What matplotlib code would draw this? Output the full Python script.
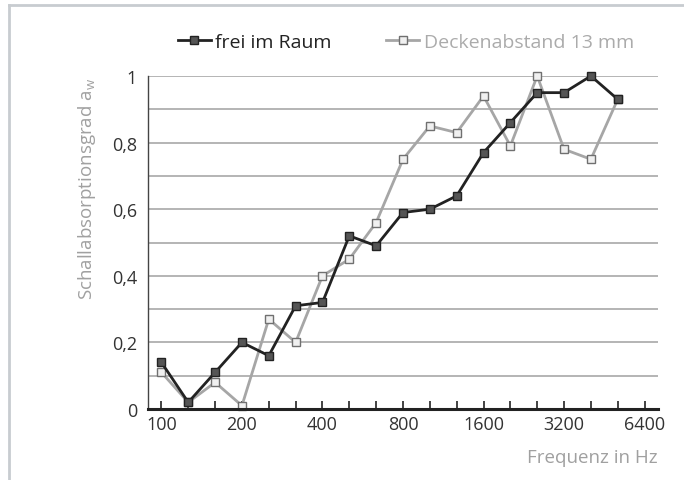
import matplotlib
matplotlib.use("Agg")
import matplotlib.pyplot as plt
from matplotlib.lines import Line2D

plt.rcParams['font.family'] = ['Open Sans', 'DejaVu Sans']

freqs = [100, 125, 160, 200, 250, 315, 400, 500, 630, 800, 1000, 1250,
         1600, 2000, 2500, 3150, 4000, 5000]
frei = [0.14, 0.02, 0.11, 0.20, 0.16, 0.31, 0.32, 0.52, 0.49, 0.59, 0.60,
        0.64, 0.77, 0.86, 0.95, 0.95, 1.00, 0.93]
decke = [0.11, 0.02, 0.08, 0.01, 0.27, 0.20, 0.40, 0.45, 0.56, 0.75, 0.85,
         0.83, 0.94, 0.79, 1.00, 0.78, 0.75, 0.93]
xlabels = ['100', '200', '400', '800', '1600', '3200', '6400']
ylabels = ['0', '0,2', '0,4', '0,6', '0,8', '1']

fig = plt.figure(figsize=(6.84, 4.81), dpi=100)
ax = fig.add_axes([148 / 684, 1 - 410 / 481, 510 / 684, 333 / 481])

x = list(range(len(freqs)))
ax.plot(x, decke, color='#a6a6a6', lw=2.0, marker='s', ms=5.5,
        mfc='#f0f0f0', mec='#707070', mew=1.0, clip_on=False, zorder=3,
        label='Deckenabstand 13 mm')
ax.plot(x, frei, color='#222222', lw=2.0, marker='s', ms=5.5,
        mfc='#555555', mec='#222222', mew=1.0, clip_on=False, zorder=4,
        label='frei im Raum')

ax.set_xlim(-0.5, len(freqs) + 0.5)
ax.set_ylim(0, 1)

ticks = list(range(len(freqs) + 1))
ax.set_xticks(ticks)
ax.set_xticklabels([xlabels[i // 3] if i % 3 == 0 else '' for i in ticks])
ax.tick_params(axis='x', direction='in', length=6, width=1.2,
               color='#222222', labelsize=13, labelcolor='#333333', pad=4)

ax.set_yticks([i / 10 for i in range(11)], minor=False)
ax.set_yticklabels([ylabels[i // 2] if i % 2 == 0 else '' for i in range(11)])
ax.tick_params(axis='y', length=0, labelsize=13, labelcolor='#333333', pad=8)
ax.grid(axis='y', color='#a8a8a8', lw=1.2)
ax.set_axisbelow(True)

for s in ['top', 'right']:
    ax.spines[s].set_visible(False)
ax.spines['bottom'].set_linewidth(2.2)
ax.spines['bottom'].set_color('#222222')
ax.spines['bottom'].set_zorder(5)
ax.spines['left'].set_linewidth(1.0)
ax.spines['left'].set_color('#444444')

ax.text(-0.12, 0.997, r'Schallabsorptionsgrad a$_{\mathregular{w}}$',
        transform=ax.transAxes, rotation=90, ha='center', va='top',
        fontsize=13.5, color='#a0a0a0')
ax.text(1.0, -0.145, 'Frequenz in Hz', transform=ax.transAxes,
        ha='right', va='center', fontsize=13.5, color='#a0a0a0')

handles, labels = ax.get_legend_handles_labels()
leg = ax.legend(handles[::-1], labels[::-1], ncol=2, frameon=False,
                loc='center', bbox_to_anchor=(0.506, 1.102),
                fontsize=14, handlelength=1.7, handletextpad=0.25,
                columnspacing=2.8, labelcolor=['#222222', '#ababab'])

fig.add_artist(Line2D([8.5 / 684, 1], [1 - 5.5 / 481, 1 - 5.5 / 481],
                      color='#c8ccd0', lw=2, transform=fig.transFigure))
fig.add_artist(Line2D([9 / 684, 9 / 684], [0, 1 - 5.5 / 481],
                      color='#c8ccd0', lw=2, transform=fig.transFigure))

fig.savefig('out.png', dpi=100)
